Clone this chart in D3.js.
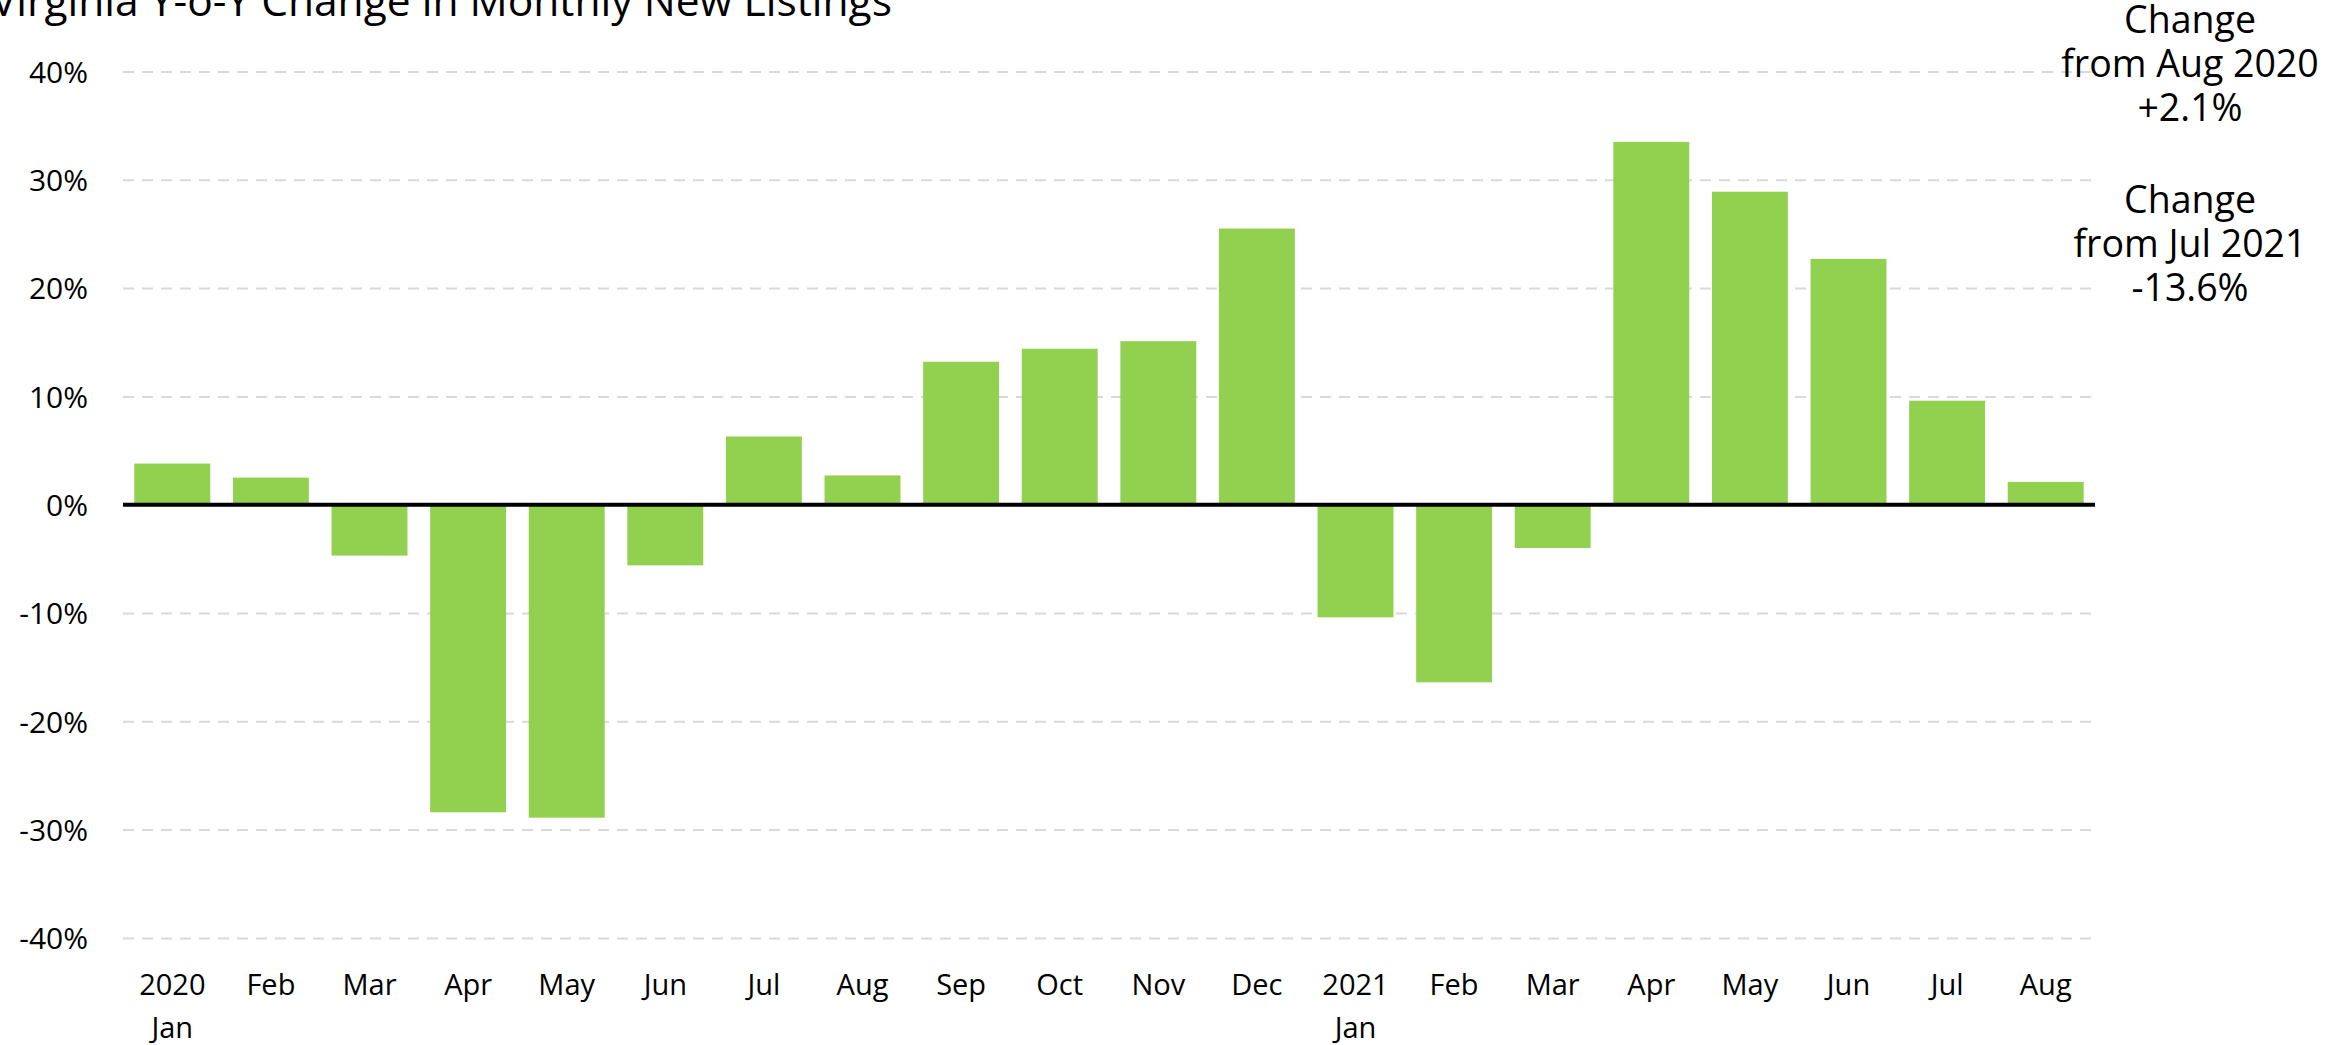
<!DOCTYPE html>
<html>
<head>
<meta charset="utf-8">
<script src="https://cdn.jsdelivr.net/npm/d3@7"></script>
<style>
  body { margin: 0; background: #fff; }
  svg text { font-family: "Open Sans", "Noto Sans", sans-serif; fill: #000; }
  .grid line { stroke: #d9d9d9; stroke-width: 2; stroke-dasharray: 11 8; }
</style>
</head>
<body>
<svg id="chart" width="2343" height="1045"></svg>
<script>
// chart data
const months = ["Jan","Feb","Mar","Apr","May","Jun","Jul","Aug","Sep","Oct","Nov","Dec",
                "Jan","Feb","Mar","Apr","May","Jun","Jul","Aug"];
const yearLabels = { 0: "2020", 12: "2021" };
const yoyChange = [3.8, 2.5, -4.7, -28.4, -28.9, -5.6, 6.3, 2.7, 13.2, 14.4, 15.1, 25.5,
                   -10.4, -16.4, -4.0, 33.5, 28.9, 22.7, 9.6, 2.1];
const yTicks = [-40, -30, -20, -10, 0, 10, 20, 30, 40];
const notes = [
  ["Change", "from Aug 2020", "+2.1%"],
  ["Change", "from Jul 2021", "-13.6%"]
];

const svg = d3.select("#chart");
const left = 123, right = 2095;

const x = d3.scaleBand()
  .domain(d3.range(months.length))
  .range([left, right])
  .paddingInner(0.23)
  .paddingOuter(0.115);

const y = d3.scaleLinear()
  .domain([-40, 40])
  .range([937.9, 71.5]);

// title (cut at the top edge, like the original)
svg.append("text")
  .attr("x", -9)
  .attr("y", 16)
  .attr("font-size", 42.5)
  .text("Virginia Y-o-Y Change in Monthly New Listings");

// dashed gridlines
svg.append("g")
  .attr("class", "grid")
  .attr("transform", `translate(${left},0)`)
  .call(d3.axisLeft(y).tickValues(yTicks.filter(d => d !== 0)).tickSize(-(right - left)).tickFormat(""))
  .call(g => g.select(".domain").remove());

// y axis labels
svg.append("g")
  .attr("transform", `translate(${left},0)`)
  .call(d3.axisLeft(y).tickValues(yTicks).tickSize(0).tickPadding(35).tickFormat(d => d + "%"))
  .call(g => g.select(".domain").remove())
  .selectAll("text")
    .attr("font-size", 30)
    .attr("dy", "0.36em");

// bars
svg.append("g")
  .selectAll("rect")
  .data(yoyChange)
  .join("rect")
    .attr("x", (d, i) => x(i))
    .attr("width", x.bandwidth())
    .attr("y", d => y(Math.max(0, d)))
    .attr("height", d => Math.abs(y(d) - y(0)))
    .attr("fill", "#92d050");

// zero line
svg.append("line")
  .attr("x1", left).attr("x2", right)
  .attr("y1", y(0)).attr("y2", y(0))
  .attr("stroke", "#000")
  .attr("stroke-width", 4);

// x axis labels
const xAxis = svg.append("g")
  .attr("transform", `translate(0,${y(-40)})`)
  .call(d3.axisBottom(x).tickSize(0).tickPadding(0).tickFormat(""))
  .call(g => g.select(".domain").remove());

xAxis.selectAll(".tick text")
  .attr("font-size", 29)
  .attr("y", 0)
  .attr("dy", 0)
  .each(function(d) {
    const t = d3.select(this);
    if (yearLabels[d]) {
      t.append("tspan").attr("x", 0).attr("y", 57).text(yearLabels[d]);
      t.append("tspan").attr("x", 0).attr("y", 100).text(months[d]);
    } else {
      t.append("tspan").attr("x", 0).attr("y", 57).text(months[d]);
    }
  });

// annotations on the right
const noteG = svg.append("g").attr("text-anchor", "middle");
notes.forEach((lines, k) => {
  const t = noteG.append("text")
    .attr("font-size", 37.5);
  lines.forEach((s, j) => {
    t.append("tspan")
      .attr("x", 2190)
      .attr("y", 33 + k * 180 + j * 44)
      .text(s);
  });
});
</script>
</body>
</html>
